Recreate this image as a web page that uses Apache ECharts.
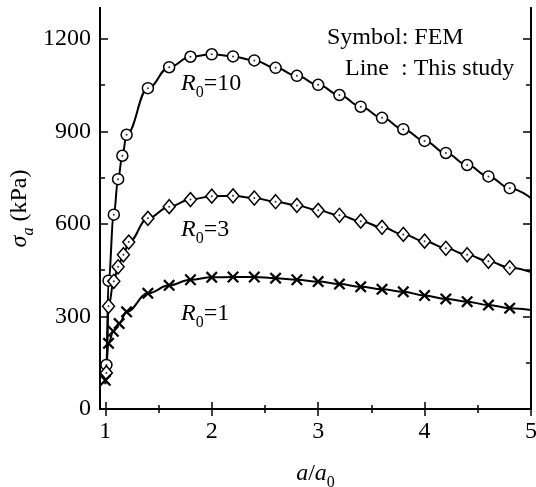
<!DOCTYPE html>
<html>
<head>
<meta charset="utf-8">
<script src="https://cdn.jsdelivr.net/npm/echarts@6/dist/echarts.min.js"></script>
<style>
  html, body { margin: 0; padding: 0; background: #fff; }
  #chart { width: 536px; height: 487px; }
</style>
</head>
<body>
<div id="chart"></div>
<script>
// Expanding-cavity pressure sigma_a against a/a0 for three R0 values.
// FEM results (symbols)
const femR10 = [
  [1.01, 143], [1.03, 416], [1.08, 630], [1.12, 745], [1.16, 821], [1.2, 889],
  [1.4, 1040], [1.6, 1108], [1.8, 1142], [2.0, 1150], [2.2, 1143], [2.4, 1130],
  [2.6, 1106], [2.8, 1080], [3.0, 1051], [3.2, 1018], [3.4, 980], [3.6, 944],
  [3.8, 907], [4.0, 869], [4.2, 830], [4.4, 791], [4.6, 754], [4.8, 716]
];
const femR3 = [
  [1.01, 117], [1.03, 333], [1.08, 414], [1.12, 461], [1.17, 500], [1.22, 541],
  [1.4, 618], [1.6, 656], [1.8, 679], [2.0, 690], [2.2, 691], [2.4, 684],
  [2.6, 672], [2.8, 660], [3.0, 644], [3.2, 628], [3.4, 609], [3.6, 589],
  [3.8, 566], [4.0, 544], [4.2, 521], [4.4, 500], [4.6, 479], [4.8, 458]
];
const femR1 = [
  [1.0, 93], [1.03, 213], [1.075, 252], [1.13, 277], [1.2, 315], [1.4, 375],
  [1.6, 401], [1.8, 419], [2.0, 427], [2.2, 428], [2.4, 428], [2.6, 424],
  [2.8, 419], [3.0, 413], [3.2, 405], [3.4, 396], [3.6, 388], [3.8, 380],
  [4.0, 368], [4.2, 357], [4.4, 348], [4.6, 337], [4.8, 327]
];
// Analytical solution (lines)
const lineR10 = [[1.0, 90]].concat(femR10, [[5.0, 683]]);
const lineR3 = [[1.0, 90]].concat(femR3, [[5.0, 444]]);
const lineR1 = [[1.0, 80]].concat(femR1, [[5.0, 321]]);

const xMajor = [1, 2, 3, 4, 5];
const xMinor = [1.5, 2.5, 3.5, 4.5];
const yMajor = [0, 300, 600, 900, 1200];
const yMinor = [150, 450, 750, 1050];

const FONT = 'Liberation Serif';
const BLACK = '#000';

const chart = echarts.init(document.getElementById('chart'), null, { renderer: 'canvas' });

const plainNumber = function (v) { return String(v); };

function xAxisDef(pos, ticks, len, withLabels, extra) {
  return Object.assign({
    type: 'value', position: pos, min: 0.95, max: 5,
    axisLine: { show: true, lineStyle: { color: BLACK, width: 2 } },
    axisTick: { show: true, inside: true, length: len, customValues: ticks,
                lineStyle: { color: BLACK, width: 1.5 } },
    axisLabel: withLabels
      ? { show: true, customValues: ticks, margin: 11, color: BLACK, fontFamily: FONT, fontSize: 24, formatter: plainNumber }
      : { show: false },
    splitLine: { show: false }
  }, extra || {});
}
function yAxisDef(pos, ticks, len, withLabels, extra) {
  return Object.assign({
    type: 'value', position: pos, min: 0, max: 1300,
    axisLine: { show: true, lineStyle: { color: BLACK, width: 2 } },
    axisTick: { show: true, inside: true, length: len, customValues: ticks,
                lineStyle: { color: BLACK, width: 1.5 } },
    axisLabel: withLabels
      ? { show: true, customValues: ticks, margin: 9, color: BLACK, fontFamily: FONT, fontSize: 24, formatter: plainNumber }
      : { show: false },
    splitLine: { show: false }
  }, extra || {});
}

const subRich = {
  i: { fontFamily: FONT, fontStyle: 'italic', fontSize: 24, lineHeight: 24, verticalAlign: 'top', color: BLACK },
  n: { fontFamily: FONT, fontSize: 24, lineHeight: 24, verticalAlign: 'top', color: BLACK },
  s: { fontFamily: FONT, fontSize: 16, lineHeight: 16, padding: [13, 0, 0, 0], verticalAlign: 'top', color: BLACK },
  si: { fontFamily: FONT, fontStyle: 'italic', fontSize: 16, lineHeight: 16, padding: [13, 0, 0, 0], verticalAlign: 'top', color: BLACK }
};

function curveLabel(text, x, y) {
  return {
    type: 'text', x: x, y: y, z: 10,
    style: { text: text, rich: subRich, verticalAlign: 'top', align: 'left' }
  };
}
function plainLabel(text, x, y) {
  return {
    type: 'text', x: x, y: y, z: 10,
    style: { text: text, fill: BLACK, font: '24px "' + FONT + '"', verticalAlign: 'middle', align: 'left' }
  };
}

const lineStyle = { color: BLACK, width: 2 };
function curve(data) {
  return {
    type: 'line', data: data, xAxisIndex: 0, yAxisIndex: 0,
    smooth: 0.4, smoothMonotone: 'x', showSymbol: false, symbol: 'none',
    lineStyle: lineStyle, z: 2, silent: true
  };
}
function markers(data, symbol, size, fill, border) {
  return {
    type: 'scatter', data: data, xAxisIndex: 0, yAxisIndex: 0,
    symbol: symbol, symbolSize: size, z: 3, silent: true,
    itemStyle: { color: fill, borderColor: BLACK, borderWidth: border, opacity: 1 }
  };
}
function dots(data) {
  return {
    type: 'scatter', data: data, xAxisIndex: 0, yAxisIndex: 0,
    symbol: 'circle', symbolSize: 2, z: 4, silent: true,
    itemStyle: { color: BLACK }
  };
}

const crossPath = 'path://M0,1.6L1.6,0L6,4.4L10.4,0L12,1.6L7.6,6L12,10.4L10.4,12L6,7.6L1.6,12L0,10.4L4.4,6Z';

chart.setOption({
  animation: false,
  backgroundColor: '#fff',
  grid: { left: 100, top: 8, right: 5, bottom: 78, containLabel: false, outerBoundsMode: 'none' },
  xAxis: [
    xAxisDef('bottom', xMajor, 7, true, {
      name: '{i|a}{n|/}{i|a}{s|0}', nameLocation: 'middle', nameGap: 53,
      nameMoveOverlap: false,
      nameTextStyle: { rich: subRich }
    }),
    xAxisDef('bottom', xMinor, 4, false),
    xAxisDef('top', xMajor, 7, false),
    xAxisDef('top', xMinor, 4, false)
  ],
  yAxis: [
    yAxisDef('left', yMajor, 8, true, {
      name: '{i|σ}{si|a}{n| (kPa)}', nameLocation: 'middle', nameGap: 68, nameRotate: 90,
      nameMoveOverlap: false,
      nameTextStyle: { rich: subRich }
    }),
    yAxisDef('left', yMinor, 5, false),
    yAxisDef('right', yMajor, 8, false),
    yAxisDef('right', yMinor, 5, false)
  ],
  series: [
    curve(lineR10), curve(lineR3), curve(lineR1),
    markers(femR10, 'circle', 11, '#fff', 1.5), dots(femR10),
    markers(femR3, 'diamond', [12, 14], '#fff', 1.5), dots(femR3),
    markers(femR1, crossPath, 12, BLACK, 0)
  ],
  graphic: [
    plainLabel('Symbol: FEM', 327, 37.5),
    plainLabel('Line  : This study', 345, 69),
    curveLabel('{i|R}{s|0}{n|=10}', 181, 71.6),
    curveLabel('{i|R}{s|0}{n|=3}', 181, 217.6),
    curveLabel('{i|R}{s|0}{n|=1}', 181, 301.6)
  ]
});
</script>
</body>
</html>
